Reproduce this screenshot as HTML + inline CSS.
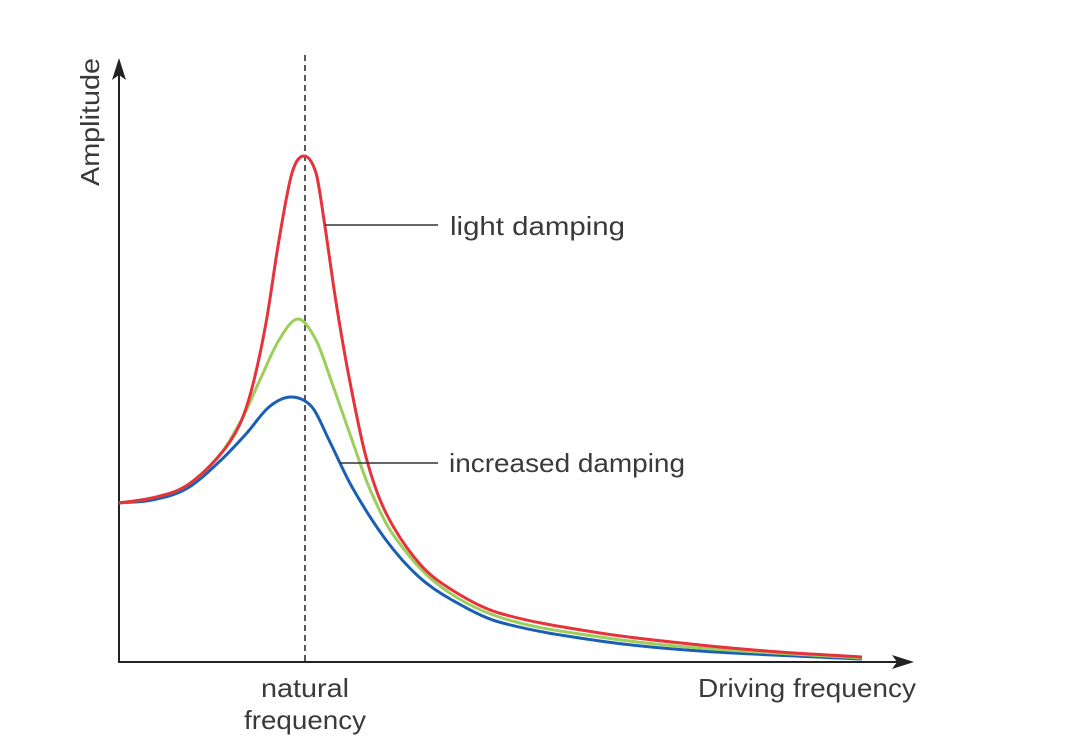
<!DOCTYPE html>
<html><head><meta charset="utf-8"><style>
html,body{margin:0;padding:0;background:#fff;}
svg{display:block;font-family:"Liberation Sans",sans-serif;}
</style></head><body>
<svg id="chart" width="1068" height="756" viewBox="0 0 1068 756">
  <g id="axes">
    <line x1="119" y1="662" x2="119" y2="72" stroke="#222" stroke-width="2"/>
    <polygon points="119,58 112,80 119,75 126,80" fill="#222"/>
    <line x1="118" y1="662" x2="900" y2="662" stroke="#222" stroke-width="2"/>
    <polygon points="914,662 892,655 897,662 892,669" fill="#222"/>
    <line x1="305" y1="55" x2="305" y2="662" stroke="#222" stroke-width="1.5" stroke-dasharray="6,4"/>
  </g>
  <g id="series"></g>
  <line x1="325" y1="225" x2="438" y2="225" stroke="#333" stroke-width="1.5"/>
  <line x1="340" y1="463" x2="438" y2="463" stroke="#333" stroke-width="1.5"/>
  <text x="450" y="235" font-size="26" fill="#3a3a3a" textLength="175" lengthAdjust="spacingAndGlyphs">light damping</text>
  <text x="449" y="472" font-size="26" fill="#3a3a3a" textLength="236" lengthAdjust="spacingAndGlyphs">increased damping</text>
  <text x="305" y="697" font-size="26" fill="#3a3a3a" text-anchor="middle" textLength="88" lengthAdjust="spacingAndGlyphs">natural</text>
  <text x="305" y="729" font-size="26" fill="#3a3a3a" text-anchor="middle" textLength="122" lengthAdjust="spacingAndGlyphs">frequency</text>
  <text x="916" y="697" font-size="26" fill="#3a3a3a" text-anchor="end" textLength="218" lengthAdjust="spacingAndGlyphs">Driving frequency</text>
  <text x="0" y="0" font-size="26" fill="#3a3a3a" text-anchor="middle" textLength="128" lengthAdjust="spacingAndGlyphs" transform="translate(99,122) rotate(-90)">Amplitude</text>
</svg>
<script>
// Data: frequency (arbitrary units) and amplitude (arbitrary units)
const redFreq = [0,33,67,100,120,133,147,160,173,185,197,205,217,230,247,267,300,333,380,481,581,661,743];
const redAmp  = [159,164,176,206,236,274,339,422,489,506,489,442,360,285,205,149,99,72,49,29,17,10,5];
const greenFreq = [0,33,67,100,123,140,160,179,197,213,233,250,273,317,380,481,581,743];
const greenAmp  = [159,164,176,206,243,280,322,343,322,279,222,175,129,79,45,25,14,4];
const blueFreq = [0,33,67,100,127,150,172,193,210,233,267,300,333,380,481,581,743];
const blueAmp  = [159,162,173,200,228,255,265,255,222,175,122,85,62,40,21,11,3];

const X0 = 119, Y0 = 662;
function xScale(f){ return X0 + f; }
function yScale(a){ return Y0 - a; }

// Hermite spline in x with finite-difference tangents
function pathFor(fs, as){
  const x = fs.map(xScale), y = as.map(yScale), n = x.length;
  const m = new Array(n);
  for(let i=0;i<n;i++){
    const a=Math.max(i-1,0), b=Math.min(i+1,n-1);
    m[i]=(y[b]-y[a])/(x[b]-x[a]);
  }
  let s='M'+x[0]+','+y[0];
  for(let i=0;i<n-1;i++){
    const h=x[i+1]-x[i];
    s+=' C'+(x[i]+h/3)+','+(y[i]+m[i]*h/3)+' '+(x[i+1]-h/3)+','+(y[i+1]-m[i+1]*h/3)+' '+x[i+1]+','+y[i+1];
  }
  return s;
}
const g = document.getElementById('series');
function addLine(fs, as, color, name){
  const el = document.createElementNS('http://www.w3.org/2000/svg','path');
  el.setAttribute('d', pathFor(fs, as));
  el.setAttribute('fill','none');
  el.setAttribute('stroke',color);
  el.setAttribute('stroke-width','3');
  
  
  g.appendChild(el);
}
addLine(blueFreq, blueAmp, '#1a5fb4', 'heavy-damping-curve');
addLine(greenFreq, greenAmp, '#9ccf5a', 'medium-damping-curve');
addLine(redFreq, redAmp, '#e5323b', 'light-damping-curve');
</script>
</body></html>
